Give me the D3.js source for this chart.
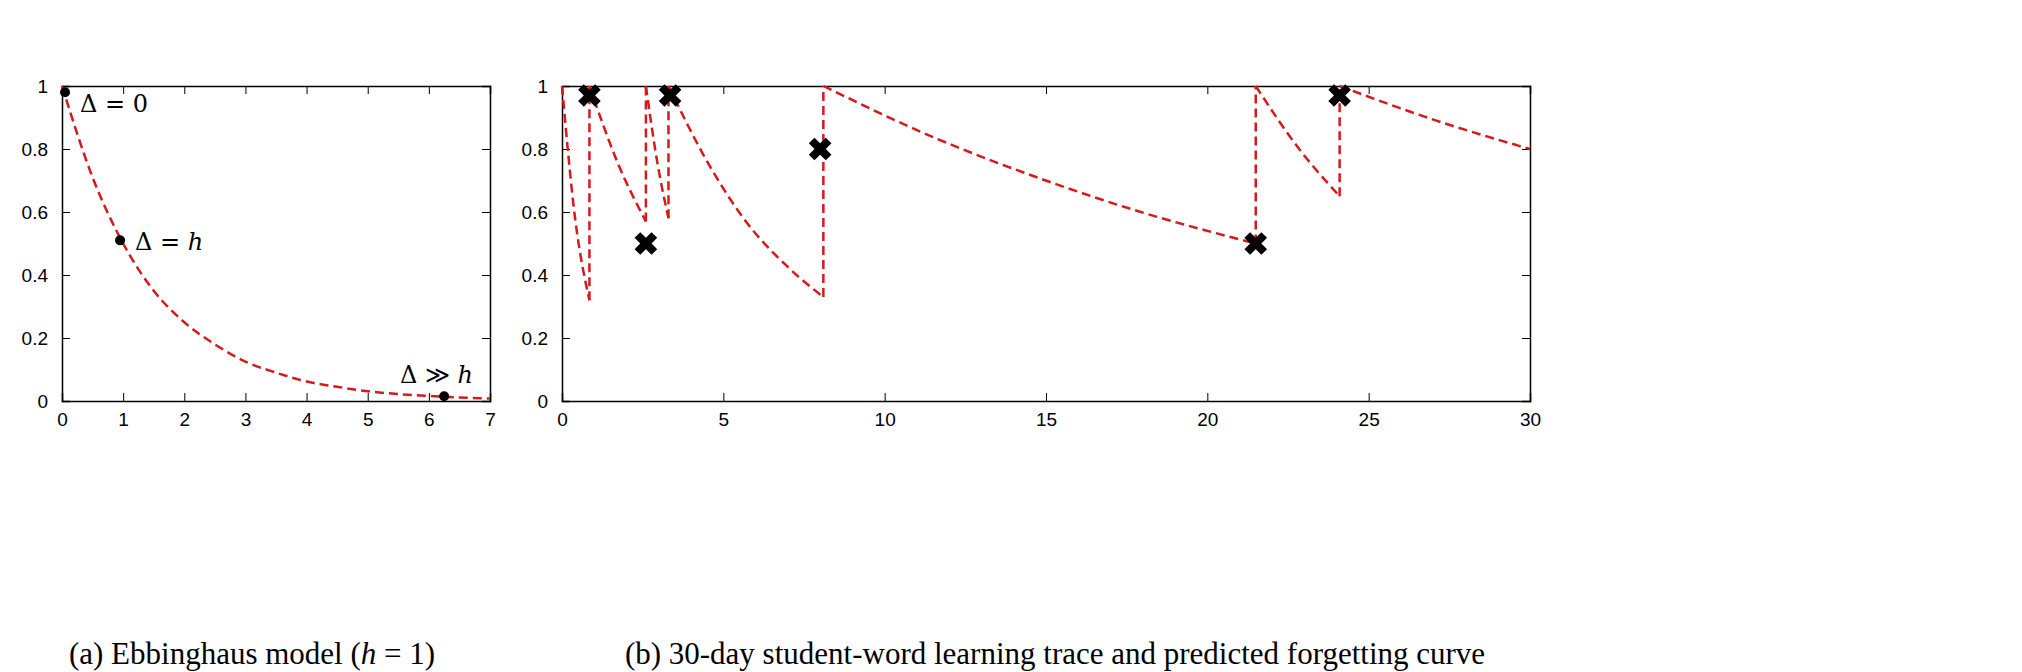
<!DOCTYPE html>
<html><head><meta charset="utf-8">
<script src="https://cdn.jsdelivr.net/npm/d3@7"></script>
<style>body{margin:0;background:#fff}svg{display:block}</style>
</head><body><svg id="c" width="2022" height="672"></svg>
<script>
// Panel (a): Ebbinghaus curve samples
const curveA_x = [0,0.5,1,1.5,2,2.5,3,3.5,4,4.5,5,5.5,6,6.5,7];
const curveA_y = [1,0.71,0.5,0.35,0.25,0.18,0.125,0.09,0.062,0.045,0.031,0.022,0.016,0.011,0.008];
const pointsA = [[0.05,0.98,"Δ = 0"],[0.95,0.51,"Δ = h"],[6.25,0.015,"Δ ≫ h"]];
const ticksAx = [0,1,2,3,4,5,6,7];
const ticksY = [0,0.2,0.4,0.6,0.8,1];
// Panel (b): decay segments [t, p]
const segmentsB = [
 [[0,1],[0.4,0.585],[0.85,0.32]],
 [[0.85,1],[1.75,0.75],[2.6,0.57]],
 [[2.6,1],[2.95,0.76],[3.3,0.58]],
 [[3.3,1],[4.5,0.76],[5.7,0.57],[6.9,0.435],[8.1,0.33]],
 [[8.1,1],[11.45,0.84],[14.8,0.707],[18.1,0.595],[21.5,0.5]],
 [[21.5,1],[22.8,0.806],[24.1,0.65]],
 [[24.1,1],[27.1,0.89],[30,0.8]]
];
const crossesB = [[0.85,0.97],[2.6,0.5],[3.35,0.97],[8,0.8],[21.5,0.5],[24.1,0.97]];
const ticksBx = [0,5,10,15,20,25,30];

const svg = d3.select("#c");
const red = "#d7191c";
function frame(x0,x1,y0,y1,xdom,xt){
  const x=d3.scaleLinear().domain(xdom).range([x0,x1]);
  const y=d3.scaleLinear().domain([0,1]).range([y1,y0]);
  const g=svg.append("g");
  const fmt=d=>String(d);
  g.append("g").attr("transform",`translate(0,${y1})`).call(d3.axisBottom(x).tickValues(xt).tickSize(-8).tickPadding(12).tickFormat(fmt));
  g.append("g").attr("transform",`translate(0,${y0})`).call(d3.axisTop(x).tickValues(xt).tickSize(-8).tickFormat(""));
  g.append("g").attr("transform",`translate(${x0},0)`).call(d3.axisLeft(y).tickValues(ticksY).tickSize(-8).tickPadding(14).tickFormat(fmt));
  g.append("g").attr("transform",`translate(${x1},0)`).call(d3.axisRight(y).tickValues(ticksY).tickSize(-8).tickFormat(""));
  g.selectAll(".domain").attr("stroke","#000").attr("stroke-width",1.5);
  g.selectAll(".tick line").attr("stroke","#000");
  g.selectAll("text").attr("font-family","Liberation Sans, Arial").attr("font-size",19).attr("fill","#000");
  return {x,y};
}
// Panel a
const A=frame(62,490,86,401,[0,7],ticksAx);
svg.append("path").datum(curveA_x.map((v,i)=>[v,curveA_y[i]]))
 .attr("d",d3.line().x(d=>A.x(d[0])).y(d=>A.y(d[1])).curve(d3.curveMonotoneX))
 .attr("fill","none").attr("stroke",red).attr("stroke-width",2.5).attr("stroke-dasharray","9,5");
pointsA.forEach((p,i)=>{
  svg.append("circle").attr("cx",A.x(p[0])).attr("cy",A.y(p[1])).attr("r",5).attr("fill","#000");
});
const lab=[[80,112],[135,250],[400,383]];
pointsA.forEach((p,i)=>{
  const t=svg.append("text").attr("x",lab[i][0]).attr("y",lab[i][1]).attr("font-family","DejaVu Serif, serif").attr("font-size",24);
  const parts=p[2].split(" ");
  t.append("tspan").text(parts[0]+" "+parts[1]+" ");
  t.append("tspan").attr("font-style",parts[2]==="h"?"italic":"normal").text(parts[2]);
});
// Panel b
const B=frame(562,1530,86,401,[0,30],ticksBx);
const lineB=d3.line().x(d=>B.x(d[0])).y(d=>B.y(d[1])).curve(d3.curveMonotoneX);
segmentsB.forEach((s,i)=>{
  svg.append("path").attr("d",lineB(s)).attr("fill","none").attr("stroke",red).attr("stroke-width",2.5).attr("stroke-dasharray","9,5");
  if(i<segmentsB.length-1){
    const e=s[s.length-1];
    svg.append("line").attr("x1",B.x(e[0])).attr("x2",B.x(e[0])).attr("y1",B.y(e[1])).attr("y2",B.y(1))
      .attr("stroke",red).attr("stroke-width",2.5).attr("stroke-dasharray","9,5");
  }
});
const cross=d3.symbol().type(d3.symbolCross).size(320);
crossesB.forEach(c=>{
  svg.append("path").attr("d",cross()).attr("transform",`translate(${B.x(c[0])},${B.y(c[1])}) rotate(45)`).attr("fill","#000");
});
// captions
function cap(x,parts){
  const t=svg.append("text").attr("x",x).attr("y",664).attr("text-anchor","middle").attr("font-family","Liberation Serif, Times New Roman, serif").attr("font-size",31);
  parts.forEach(p=>t.append("tspan").attr("font-style",p[1]?"italic":"normal").text(p[0]));
}
cap(252,[["(a)  Ebbinghaus model ("],["h",1],[" = 1)"]]);
cap(1055,[["(b)  30-day student-word learning trace and predicted forgetting curve"]]);
</script></body></html>
